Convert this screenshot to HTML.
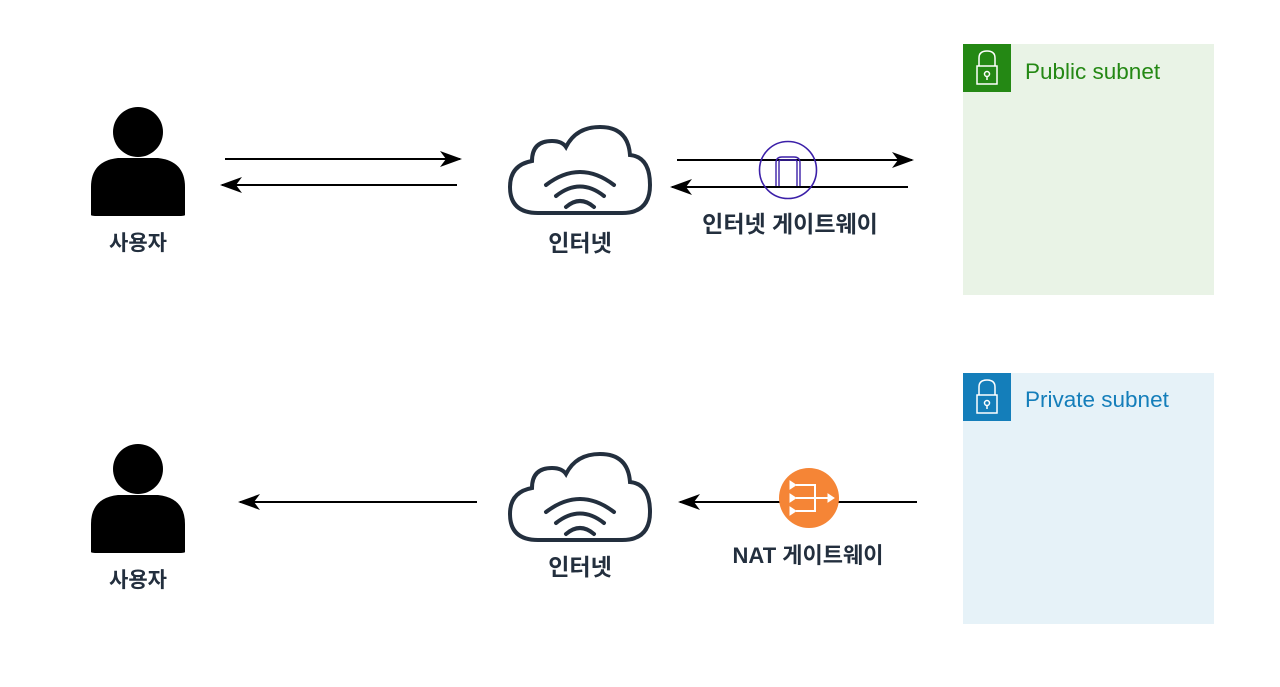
<!DOCTYPE html>
<html><head><meta charset="utf-8"><style>
html,body{margin:0;padding:0;background:#fff;width:1280px;height:687px;overflow:hidden}
svg text{font-family:"Liberation Sans","Noto Sans CJK KR",sans-serif}
</style></head><body>
<svg width="1280" height="687" viewBox="0 0 1280 687" xmlns="http://www.w3.org/2000/svg">
<defs>
<g id="person">
<circle cx="0" cy="0" r="25" fill="#000"/>
<path d="M-47,83 L-47,55 Q-47,29 -20,26 L20,26 Q47,29 47,55 L47,83 Q47,84 40,84 L-40,84 Q-47,84 -47,83Z" fill="#000"/>
</g>
<g id="cloud" fill="none" stroke="#232f3e" stroke-width="4" stroke-linecap="round">
<path d="M30,88 Q2,88 2,62 Q2,40 24,36 Q24,16 44,16 Q54,16 58,22 Q68,2 92,2 Q120,2 122,30 Q142,32 142,60 Q142,88 114,88 Z"/>
<path d="M38,60 Q72,34 106,60"/>
<path d="M48,71 Q72,52 96,71"/>
<path d="M58,82 Q72,70 86,82"/>
</g>
<marker id="ah" viewBox="0 0 22 16" refX="20" refY="8" markerWidth="22" markerHeight="16" markerUnits="userSpaceOnUse" orient="auto">
<path d="M0,0 L22,8 L0,16 L6,8Z" fill="#000"/>
</marker>
</defs>

<rect x="963" y="44" width="251" height="251" fill="#e9f3e6"/>
<rect x="963" y="44" width="48" height="48" fill="#248814"/>
<g stroke="#fff" stroke-width="1.5" fill="none">
<path d="M979,66 V58 Q979,51 987,51 Q995,51 995,58 V66"/>
<rect x="977" y="66" width="20" height="18"/>
<circle cx="987" cy="74" r="2.5"/><line x1="987" y1="76" x2="987" y2="80"/>
</g>
<text x="1025" y="79" font-size="22.5" fill="#248814">Public subnet</text>

<rect x="963" y="373" width="251" height="251" fill="#e6f2f8"/>
<rect x="963" y="373" width="48" height="48" fill="#147eba"/>
<g stroke="#fff" stroke-width="1.5" fill="none">
<path d="M979,395 V387 Q979,380 987,380 Q995,380 995,387 V395"/>
<rect x="977" y="395" width="20" height="18"/>
<circle cx="987" cy="403" r="2.5"/><line x1="987" y1="405" x2="987" y2="409"/>
</g>
<text x="1025" y="407" font-size="22.5" fill="#147eba">Private subnet</text>

<use href="#person" x="138" y="132"/>
<use href="#person" x="138" y="469"/>
<text x="138" y="250" font-size="21" font-weight="bold" text-anchor="middle" fill="#232f3e">사용자</text>
<text x="138" y="587" font-size="21" font-weight="bold" text-anchor="middle" fill="#232f3e">사용자</text>

<use href="#cloud" x="508" y="125"/>
<use href="#cloud" x="508" y="452"/>
<text x="580" y="251" font-size="23" font-weight="bold" text-anchor="middle" fill="#232f3e">인터넷</text>
<text x="580" y="575" font-size="23" font-weight="bold" text-anchor="middle" fill="#232f3e">인터넷</text>

<g stroke="#000" stroke-width="2" marker-end="url(#ah)">
<line x1="225" y1="159" x2="460" y2="159"/>
<line x1="457" y1="185" x2="222" y2="185"/>
<line x1="677" y1="160" x2="912" y2="160"/>
<line x1="908" y1="187" x2="672" y2="187"/>
<line x1="477" y1="502" x2="240" y2="502"/>
<line x1="917" y1="502" x2="680" y2="502"/>
</g>

<circle cx="788" cy="170" r="28.5" fill="none" stroke="#3b1fa8" stroke-width="1.6"/>
<path d="M776,186 V163 Q776,157 782,157 H794 Q800,157 800,163 V186 M779,186 V162 Q779,160 781,160 H795 Q797,160 797,162 V186" fill="none" stroke="#3b1fa8" stroke-width="1.4"/>
<text x="790" y="232" font-size="23" font-weight="bold" text-anchor="middle" fill="#232f3e">인터넷 게이트웨이</text>

<circle cx="809" cy="498" r="30" fill="#f58536"/>
<g stroke="#fff" stroke-width="2" fill="none">
<path d="M796,485 H815 V511 H796 M796,498 H830"/>
<path d="M790,481 L796,485 L790,489Z M790,494 L796,498 L790,502Z M790,507 L796,511 L790,515Z M828,494 L834,498 L828,502Z" fill="#fff" stroke-width="1"/>
</g>
<text x="808" y="563" font-size="22" font-weight="bold" text-anchor="middle" fill="#232f3e">NAT 게이트웨이</text>
</svg>
</body></html>
